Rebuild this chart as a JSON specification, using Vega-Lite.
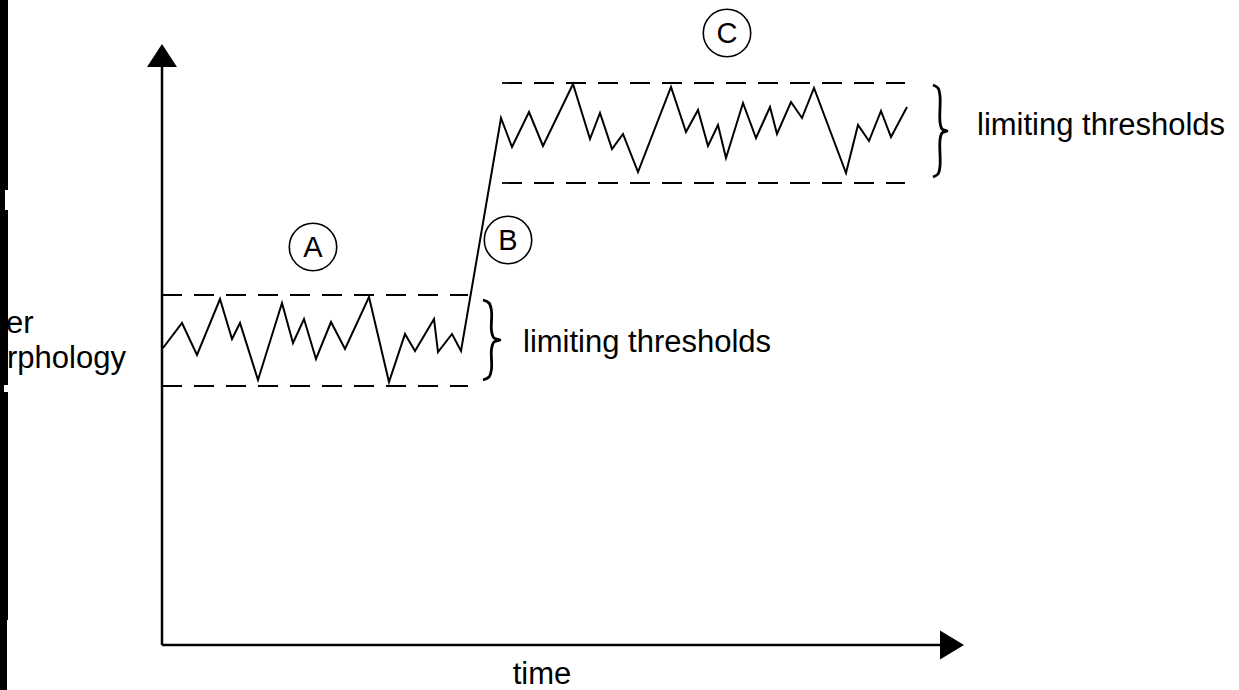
{
  "$schema": "https://vega.github.io/schema/vega-lite/v6.json",
  "width": 1239,
  "height": 690,
  "autosize": {"type": "fit", "contains": "padding"},
  "padding": 0,
  "background": "white",
  "config": {"view": {"stroke": null}},
  "datasets": {
    "bar": [
      {"t0": -162, "t1": -154, "v0": 645, "v1": 455},
      {"t0": -162, "t1": -157, "v0": 455, "v1": 435},
      {"t0": -162, "t1": -154, "v0": 435, "v1": 260},
      {"t0": -162, "t1": -158, "v0": 260, "v1": 253},
      {"t0": -162, "t1": -154, "v0": 253, "v1": 25},
      {"t0": -162, "t1": -155, "v0": 25, "v1": -45}
    ],
    "axes": [
      {"axis": "value", "seq": 0, "t": 0, "v": 0},
      {"axis": "value", "seq": 1, "t": 0, "v": 580},
      {"axis": "time", "seq": 0, "t": 0, "v": 0},
      {"axis": "time", "seq": 1, "t": 779, "v": 0}
    ],
    "arrowUp": [{"t": 0, "v": 578}],
    "arrowRight": [{"t": 778, "v": 0}],
    "thresholds": [
      {"phase": "A", "level": "upper", "t": 0, "t2": 306, "v": 350},
      {"phase": "A", "level": "lower", "t": 0, "t2": 306, "v": 259},
      {"phase": "C", "level": "upper", "t": 340, "t2": 743, "v": 562},
      {"phase": "C", "level": "lower", "t": 340, "t2": 743, "v": 462}
    ],
    "signal": [
      {"t": 1, "v": 297}, {"t": 20, "v": 322}, {"t": 35, "v": 290}, {"t": 58, "v": 346},
      {"t": 70, "v": 306}, {"t": 78, "v": 322}, {"t": 96, "v": 265}, {"t": 120, "v": 342},
      {"t": 131, "v": 302}, {"t": 142, "v": 326}, {"t": 154, "v": 286}, {"t": 169, "v": 323},
      {"t": 183, "v": 296}, {"t": 207, "v": 348}, {"t": 227, "v": 263}, {"t": 243, "v": 311},
      {"t": 253, "v": 294}, {"t": 272, "v": 326}, {"t": 276, "v": 293}, {"t": 290, "v": 311},
      {"t": 299, "v": 294}, {"t": 339, "v": 527}, {"t": 350, "v": 498}, {"t": 367, "v": 533},
      {"t": 381, "v": 499}, {"t": 411, "v": 561}, {"t": 428, "v": 506}, {"t": 438, "v": 532},
      {"t": 450, "v": 496}, {"t": 461, "v": 511}, {"t": 476, "v": 473}, {"t": 509, "v": 558},
      {"t": 524, "v": 513}, {"t": 536, "v": 535}, {"t": 546, "v": 499}, {"t": 556, "v": 520},
      {"t": 564, "v": 487}, {"t": 581, "v": 542}, {"t": 594, "v": 507}, {"t": 608, "v": 538},
      {"t": 615, "v": 511}, {"t": 629, "v": 543}, {"t": 640, "v": 527}, {"t": 652, "v": 557},
      {"t": 684, "v": 472}, {"t": 696, "v": 520}, {"t": 707, "v": 504}, {"t": 719, "v": 534},
      {"t": 729, "v": 508}, {"t": 745, "v": 538}
    ],
    "braces": [
      {"brace": "A", "seq": 1, "t": 321, "v": 345},
      {"brace": "A", "seq": 2, "t": 327, "v": 342},
      {"brace": "A", "seq": 3, "t": 329.5, "v": 334},
      {"brace": "A", "seq": 4, "t": 329.5, "v": 314},
      {"brace": "A", "seq": 5, "t": 332, "v": 307},
      {"brace": "A", "seq": 6, "t": 338, "v": 305},
      {"brace": "A", "seq": 7, "t": 332, "v": 303},
      {"brace": "A", "seq": 8, "t": 329.5, "v": 296},
      {"brace": "A", "seq": 9, "t": 329.5, "v": 276},
      {"brace": "A", "seq": 10, "t": 327, "v": 268},
      {"brace": "A", "seq": 11, "t": 321, "v": 265},
      {"brace": "C", "seq": 1, "t": 771, "v": 560},
      {"brace": "C", "seq": 2, "t": 776, "v": 557},
      {"brace": "C", "seq": 3, "t": 778, "v": 549},
      {"brace": "C", "seq": 4, "t": 778, "v": 523},
      {"brace": "C", "seq": 5, "t": 780, "v": 516},
      {"brace": "C", "seq": 6, "t": 785, "v": 514},
      {"brace": "C", "seq": 7, "t": 780, "v": 512},
      {"brace": "C", "seq": 8, "t": 778, "v": 505},
      {"brace": "C", "seq": 9, "t": 778, "v": 479},
      {"brace": "C", "seq": 10, "t": 776, "v": 471},
      {"brace": "C", "seq": 11, "t": 771, "v": 468}
    ],
    "markers": [
      {"label": "A", "t": 151, "v": 398},
      {"label": "B", "t": 346, "v": 405},
      {"label": "C", "t": 565, "v": 612}
    ],
    "leftText": [
      {"label": "limiting thresholds", "t": 361, "v": 293},
      {"label": "limiting thresholds", "t": 815, "v": 510},
      {"label": "er", "t": -156, "v": 312},
      {"label": "rphology", "t": -155, "v": 277}
    ],
    "centerText": [
      {"label": "time", "t": 380, "v": -39}
    ]
  },
  "encoding": {
    "x": {"field": "t", "type": "quantitative", "scale": {"domain": [-162, 1077], "nice": false, "zero": false}, "axis": null},
    "y": {"field": "v", "type": "quantitative", "scale": {"domain": [-45, 645], "nice": false, "zero": false}, "axis": null}
  },
  "layer": [
    {
      "data": {"name": "leftText"},
      "mark": {"type": "text", "font": "Liberation Sans", "fontSize": 31, "align": "left", "baseline": "alphabetic", "color": "black"},
      "encoding": {"text": {"field": "label"}}
    },
    {
      "data": {"name": "bar"},
      "mark": {"type": "rect", "color": "black"},
      "encoding": {
        "x": {"field": "t0", "type": "quantitative"},
        "x2": {"field": "t1"},
        "y": {"field": "v0", "type": "quantitative"},
        "y2": {"field": "v1"}
      }
    },
    {
      "data": {"name": "axes"},
      "mark": {"type": "line", "color": "black", "strokeWidth": 2.5},
      "encoding": {
        "detail": {"field": "axis"},
        "order": {"field": "seq"}
      }
    },
    {
      "data": {"name": "arrowUp"},
      "mark": {"type": "point", "shape": "M0,-1L-0.652,0L0.652,0Z", "size": 2116, "filled": true, "color": "black", "opacity": 1}
    },
    {
      "data": {"name": "arrowRight"},
      "mark": {"type": "point", "shape": "M0,-0.6L1,0L0,0.6Z", "size": 2304, "filled": true, "color": "black", "opacity": 1}
    },
    {
      "data": {"name": "thresholds"},
      "mark": {"type": "rule", "color": "black", "strokeWidth": 1.8, "strokeDash": [20, 12]},
      "encoding": {
        "x2": {"field": "t2"}
      }
    },
    {
      "data": {"name": "signal"},
      "mark": {"type": "line", "color": "black", "strokeWidth": 2, "strokeJoin": "miter"},
      "encoding": {}
    },
    {
      "data": {"name": "braces"},
      "mark": {"type": "line", "color": "black", "strokeWidth": 2.8, "interpolate": "catmull-rom"},
      "encoding": {
        "detail": {"field": "brace"},
        "order": {"field": "seq"}
      }
    },
    {
      "data": {"name": "markers"},
      "mark": {"type": "point", "shape": "circle", "size": 2250, "filled": false, "color": "black", "strokeWidth": 1.6, "opacity": 1}
    },
    {
      "data": {"name": "markers"},
      "mark": {"type": "text", "font": "Liberation Sans", "fontSize": 29, "align": "center", "baseline": "middle", "dy": 1, "color": "black"},
      "encoding": {"text": {"field": "label"}}
    },
    {
      "data": {"name": "centerText"},
      "mark": {"type": "text", "font": "Liberation Sans", "fontSize": 31, "align": "center", "baseline": "alphabetic", "color": "black"},
      "encoding": {"text": {"field": "label"}}
    }
  ]
}
